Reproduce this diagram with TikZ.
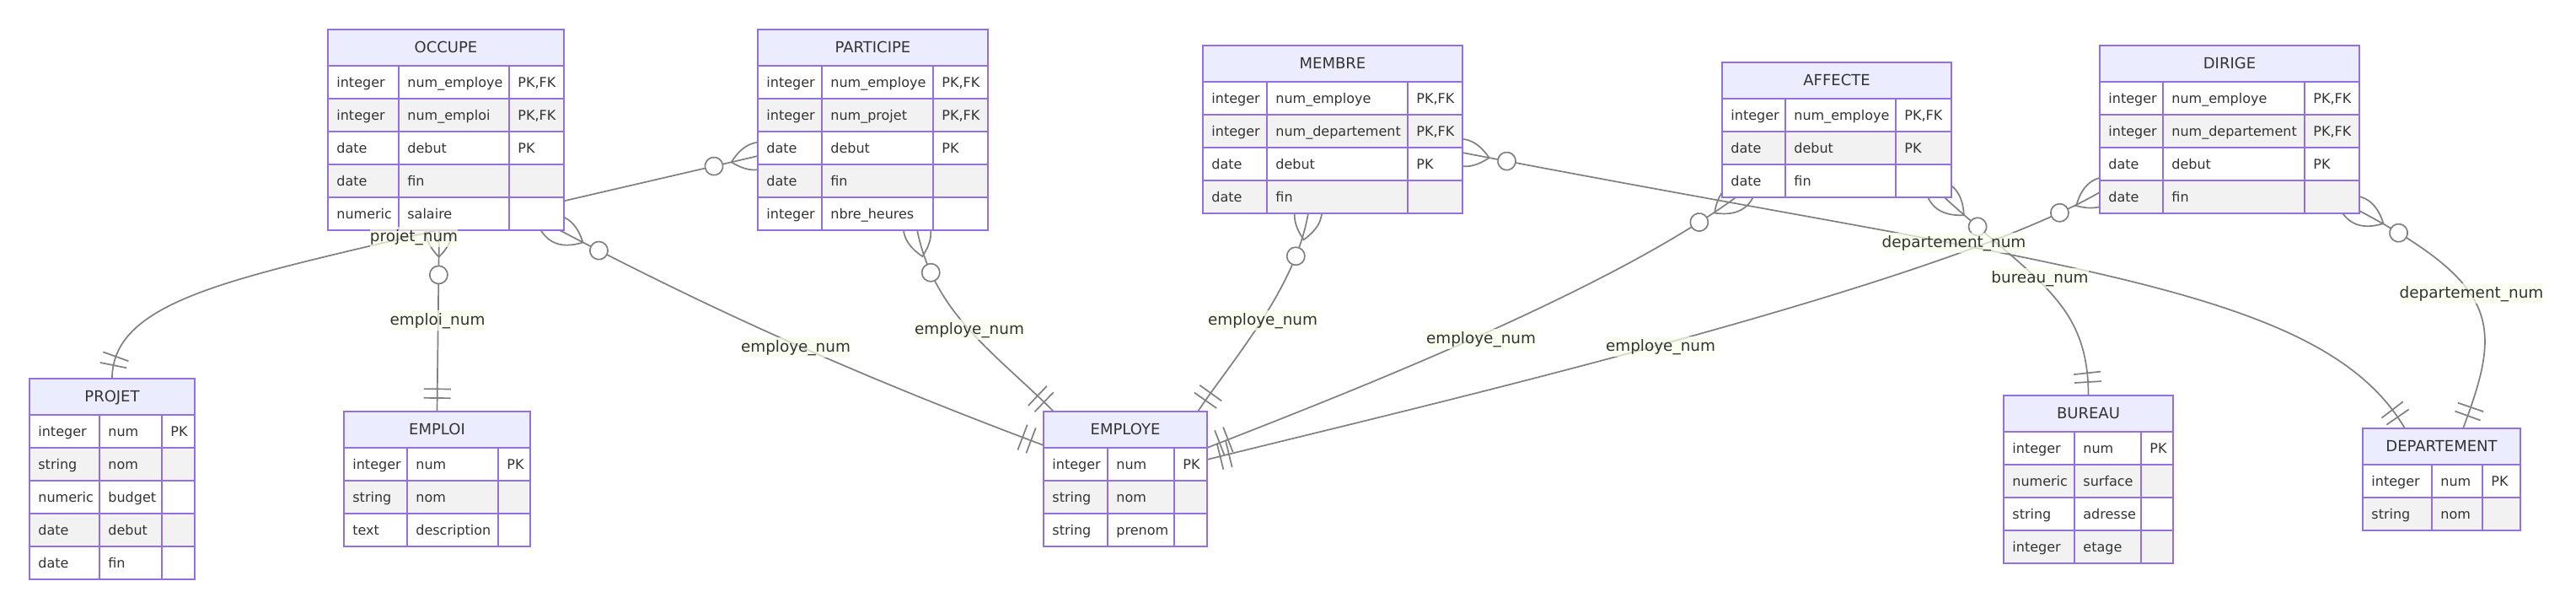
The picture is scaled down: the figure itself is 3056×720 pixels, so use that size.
\documentclass[tikz,border=0pt]{standalone}
\usepackage{fontspec}
\setmainfont{DejaVu Sans}
\usetikzlibrary{calc,decorations.markings}

\definecolor{bord}{HTML}{9370DB}
\definecolor{entete}{HTML}{ECECFF}
\definecolor{rangee}{HTML}{F2F2F2}
\definecolor{relgris}{HTML}{808080}
\definecolor{fondetiq}{HTML}{F9FFEC}
\definecolor{texte}{HTML}{333333}

\pgfdeclarelayer{fond}
\pgfsetlayers{fond,main}

\tikzset{
  cellule/.style={draw=bord, line width=1pt},
  entite/.style={draw=bord, line width=1pt, inner sep=0pt, outer sep=0pt},
  titre/.style={anchor=base, inner sep=0pt, text=texte, font=\fontsize{9}{11}\selectfont},
  attr/.style={anchor=base west, inner sep=0pt, text=texte, font=\fontsize{8}{10}\selectfont},
  etiq/.style={fill=fondetiq, fill opacity=0.7, text opacity=1, text=texte,
    font=\fontsize{9.2}{11}\selectfont, inner xsep=0pt, inner ysep=1.5pt,
    text height=0.72em, text depth=0.22em},
  trait/.style={draw=relgris, line width=0.85pt},
  % zero ou plusieurs au depart, exactement un a l'arrivee
  rel/.style={trait, postaction={decorate, decoration={markings,
    mark=at position 0.1pt with {\draw[trait] (-16pt,0pt) .. controls (-5.33pt,10.67pt) and (5.33pt,10.67pt) .. (16pt,0pt)
        .. controls (5.33pt,-10.67pt) and (-5.33pt,-10.67pt) .. (-16pt,0pt);},
    mark=at position 26.7pt with {\draw[trait, fill=white] (0pt,0pt) circle[radius=5.3pt];},
    mark=at position -13.35pt with {\draw[trait] (0pt,-8pt) -- (0pt,8pt);},
    mark=at position -8pt with {\draw[trait] (0pt,-8pt) -- (0pt,8pt);}}}}
}

% #1 nom, #2 #3 coin haut gauche, #4-#6 largeurs des colonnes, #7 titre, #8 attributs
\newcommand{\entite}[8]{%
  \pgfmathsetmacro{\largtot}{#4+#5+#6}%
  \draw[cellule, fill=entete] (#2,#3) rectangle ++(\largtot,42.5);
  \node[titre] at (#2+\largtot/2,#3+27.5) {#7};
  \foreach \ty/\nm/\cle [count=\i] in {#8} {
    \pgfmathsetmacro{\yrang}{#3+42.5+39*(\i-1)}
    \ifodd\i \def\fondr{white}\else\def\fondr{rangee}\fi
    \draw[cellule, fill=\fondr] (#2,\yrang) rectangle ++(#4,39) rectangle ++(#5,-39) rectangle ++(#6,39);
    \node[attr] at (#2+10,\yrang+25.5) {\ty};
    \node[attr] at (#2+#4+10,\yrang+25.5) {\nm};
    \node[attr] at (#2+#4+#5+10,\yrang+25.5) {\cle};
    \xdef\nbrang{\i}
  }
  \pgfmathsetmacro{\demiL}{\largtot/2}%
  \pgfmathsetmacro{\demiH}{(42.5+39*\nbrang)/2}%
  \node (#1) [entite, minimum width=\demiL pt, minimum height=\demiH pt, anchor=north west] at (#2,#3) {};
}

\begin{document}
\begin{tikzpicture}[x=0.5pt, y=-0.5pt]
  \useasboundingbox (0,0) rectangle (3056,720);
  \begin{pgfonlayer}{fond}
    \fill[white] (0,0) rectangle (3056,720);
  \end{pgfonlayer}

  % Entites
  \entite{occupe}{389}{35}{84}{131}{65}{OCCUPE}{integer/num\_employe/{PK,FK}, integer/num\_emploi/{PK,FK}, date/debut/PK, date/fin/{}, numeric/salaire/{}}
  \entite{participe}{899}{35}{76}{132}{65}{PARTICIPE}{integer/num\_employe/{PK,FK}, integer/num\_projet/{PK,FK}, date/debut/PK, date/fin/{}, integer/nbre\_heures/{}}
  \entite{membre}{1427}{54}{76}{167}{65}{MEMBRE}{integer/num\_employe/{PK,FK}, integer/num\_departement/{PK,FK}, date/debut/PK, date/fin/{}}
  \entite{affecte}{2043}{74}{75}{131}{66}{AFFECTE}{integer/num\_employe/{PK,FK}, date/debut/PK, date/fin/{}}
  \entite{dirige}{2491}{54}{75}{168}{65}{DIRIGE}{integer/num\_employe/{PK,FK}, integer/num\_departement/{PK,FK}, date/debut/PK, date/fin/{}}
  \entite{projet}{35}{449}{83}{74}{39}{PROJET}{integer/num/PK, string/nom/{}, numeric/budget/{}, date/debut/{}, date/fin/{}}
  \entite{emploi}{408}{488}{75}{108}{38}{EMPLOI}{integer/num/PK, string/nom/{}, text/description/{}}
  \entite{employe}{1238}{488}{76}{79}{39}{EMPLOYE}{integer/num/PK, string/nom/{}, string/prenom/{}}
  \entite{bureau}{2377}{469}{84}{79}{38}{BUREAU}{integer/num/PK, numeric/surface/{}, string/adresse/{}, integer/etage/{}}
  \entite{departement}{2803}{508}{82}{60}{45}{DEPARTEMENT}{integer/num/PK, string/nom/{}}

  % Associations (sous les entites)
  \begin{pgfonlayer}{fond}
    \draw[rel] ($(participe.north west)+(0,150)$) -- ++(-453,105)
      .. controls +(-190,45) and +(0,-85) .. (projet.north);
    \draw[rel] ($(occupe.south west)+(132,0)$) -- (emploi.north);
    \draw[rel] ($(occupe.south east)+(-6,0)$) .. controls +(200,105) and +(-200,-75) .. ($(employe.north west)+(0,40)$);
    \draw[rel] ($(participe.south west)+(189,0)$) .. controls +(20,100) and +(-70,-70) .. ($(employe.north west)+(12,0)$);
    \draw[rel] ($(membre.south west)+(125,0)$) .. controls +(-15,90) and +(40,-60) .. ($(employe.north east)+(-11,0)$);
    \draw[rel] ($(affecte.south west)+(17,0)$) .. controls +(-150,110) and +(180,-70) .. ($(employe.north east)+(0,43)$);
    \draw[rel] ($(dirige.north west)+(0,174)$) .. controls +(-200,115) and +(220,-55) .. ($(employe.north east)+(0,57)$);
    \draw[rel] ($(membre.north east)+(0,127)$) .. controls +(700,135) and +(-100,-170) .. ($(departement.north west)+(50,0)$);
    \draw[rel] ($(dirige.north east)+(0,196)$) .. controls +(170,90) and +(45,-120) .. ($(departement.north west)+(119,0)$);
    \draw[rel] ($(affecte.south east)+(-9,0)$) .. controls +(110,100) and +(0,-110) .. (bureau.north);
  \end{pgfonlayer}

  % Etiquettes
  \node (e1) [etiq] at (491,281) {projet\_num};
  \node (e2) [etiq] at (519,380) {emploi\_num};
  \node (e3) [etiq] at (944,412) {employe\_num};
  \node (e4) [etiq] at (1150,391) {employe\_num};
  \node (e5) [etiq] at (1498,380) {employe\_num};
  \node (e6) [etiq] at (1757,402) {employe\_num};
  \node (e7) [etiq] at (1970,411) {employe\_num};
  \node (e8) [etiq] at (2318,288) {departement\_num};
  \node (e9) [etiq] at (2420,330) {bureau\_num};
  \node (e10) [etiq] at (2932,348) {departement\_num};
\end{tikzpicture}
\end{document}
